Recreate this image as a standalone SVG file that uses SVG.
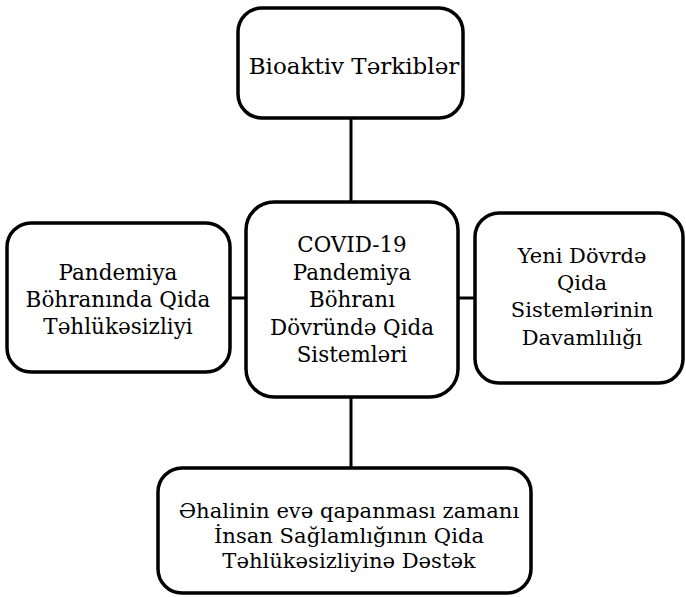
<svg xmlns="http://www.w3.org/2000/svg" width="686" height="597" viewBox="0 0 686 597">
<defs>
<style>
.box{fill:#fff;stroke:#000;stroke-width:3.5}
.c{stroke:#000;stroke-width:3;fill:none}
</style>
</defs>
<rect width="686" height="597" fill="#fff"/>
<g id="connectors">
<line class="c" x1="351" y1="118" x2="351" y2="202"/>
<line class="c" x1="230" y1="298" x2="246" y2="298"/>
<line class="c" x1="458" y1="298" x2="475" y2="298"/>
<line class="c" x1="351" y1="397" x2="351" y2="468"/>
</g>
<g id="top">
<rect class="box" x="238" y="8" width="225" height="110" rx="24"/>
<text x="354" y="74" font-family="'DejaVu Serif', serif" font-size="23" text-anchor="middle">Bioaktiv Tərkiblər</text>
</g>
<g id="center">
<rect class="box" x="246" y="202" width="212" height="195" rx="28"/>
<text x="352" y="252" font-family="'DejaVu Serif', serif" font-size="21.4" text-anchor="middle">COVID-19</text>
<text x="352" y="280" font-family="'DejaVu Serif', serif" font-size="21.4" text-anchor="middle">Pandemiya</text>
<text x="352" y="307" font-family="'DejaVu Serif', serif" font-size="21.4" text-anchor="middle">Böhranı</text>
<text x="352" y="335" font-family="'DejaVu Serif', serif" font-size="21.4" text-anchor="middle">Dövründə Qida</text>
<text x="352" y="362" font-family="'DejaVu Serif', serif" font-size="21.4" text-anchor="middle">Sistemləri</text>
</g>
<g id="left">
<rect class="box" x="7" y="223" width="223" height="149" rx="24"/>
<text x="118" y="280" font-family="'DejaVu Serif', serif" font-size="21.5" text-anchor="middle">Pandemiya</text>
<text x="118" y="307" font-family="'DejaVu Serif', serif" font-size="21.5" text-anchor="middle">Böhranında Qida</text>
<text x="118" y="334" font-family="'DejaVu Serif', serif" font-size="21.5" text-anchor="middle">Təhlükəsizliyi</text>
</g>
<g id="right">
<rect class="box" x="475" y="213" width="208" height="170" rx="24"/>
<text x="582" y="263" font-family="'DejaVu Serif', serif" font-size="21" text-anchor="middle">Yeni Dövrdə</text>
<text x="582" y="290" font-family="'DejaVu Serif', serif" font-size="21" text-anchor="middle">Qida</text>
<text x="582" y="317" font-family="'DejaVu Serif', serif" font-size="21" text-anchor="middle">Sistemlərinin</text>
<text x="582" y="345" font-family="'DejaVu Serif', serif" font-size="21" text-anchor="middle">Davamlılığı</text>
</g>
<g id="bottom">
<rect class="box" x="158" y="468" width="373" height="125" rx="24"/>
<text x="349" y="518" font-family="'DejaVu Serif', serif" font-size="21.1" text-anchor="middle">Əhalinin evə qapanması zamanı</text>
<text x="349" y="543" font-family="'DejaVu Serif', serif" font-size="21.1" text-anchor="middle">İnsan Sağlamlığının Qida</text>
<text x="349" y="568" font-family="'DejaVu Serif', serif" font-size="21.1" text-anchor="middle">Təhlükəsizliyinə Dəstək</text>
</g>
</svg>
